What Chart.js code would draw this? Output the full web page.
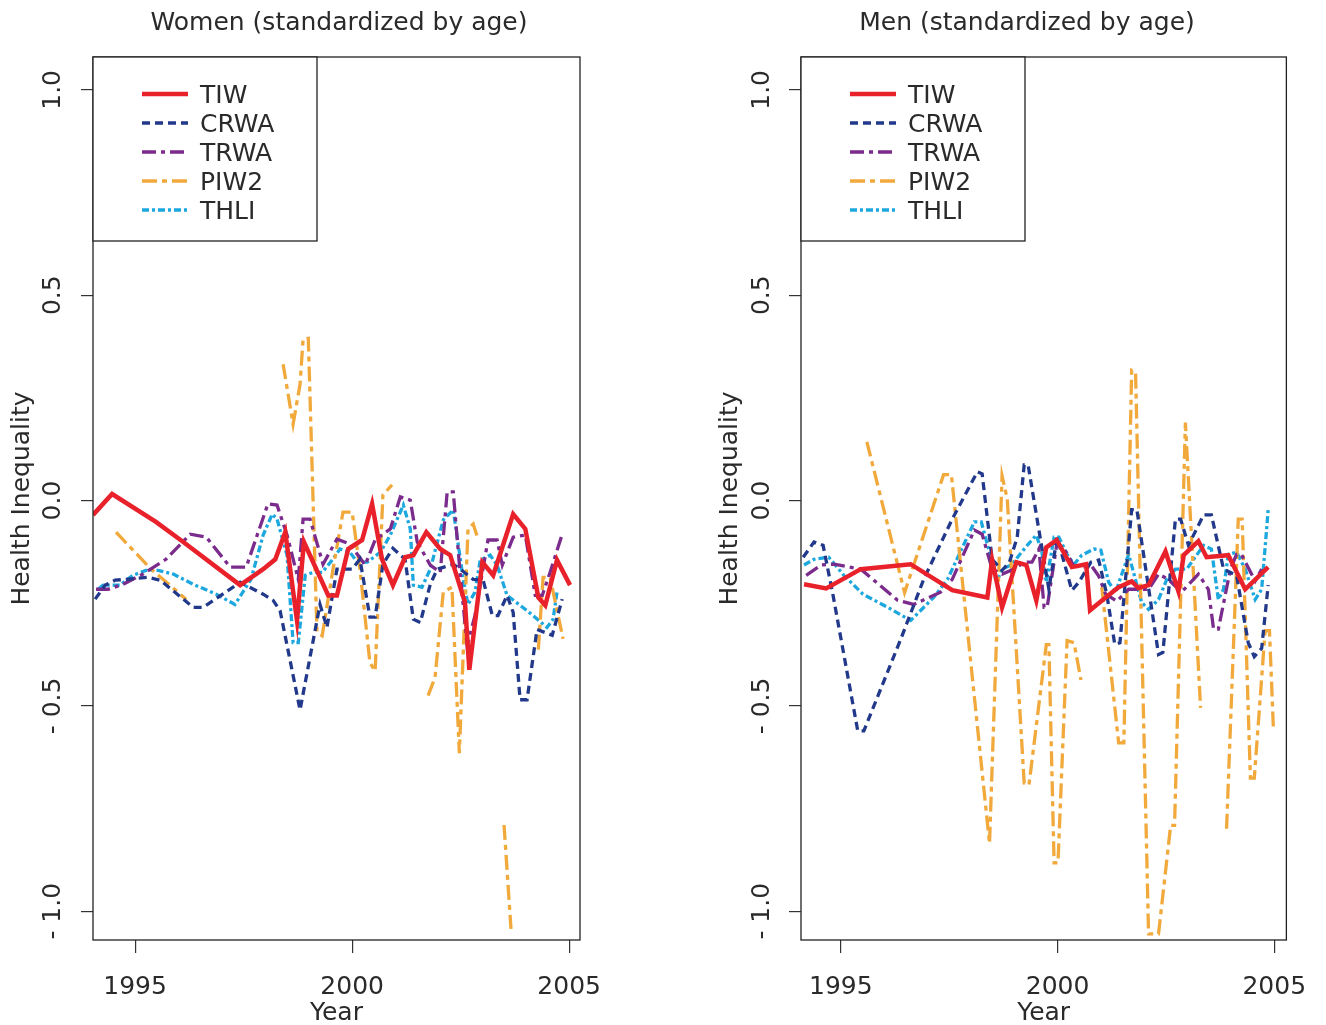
<!DOCTYPE html>
<html>
<head>
<meta charset="utf-8">
<script src="https://cdn.jsdelivr.net/npm/chart.js@4.4.1/dist/chart.umd.min.js"></script>
<style>
  html, body { margin: 0; padding: 0; background: #fff; }
  #wrap { position: relative; width: 1326px; height: 1025px; }
  canvas { position: absolute; top: 0; }
</style>
</head>
<body>
<div id="wrap">
  <canvas id="women" width="663" height="1025" style="left:0"></canvas>
  <canvas id="men" width="663" height="1025" style="left:663px"></canvas>
</div>
<script>
const seriesNames = ['TIW', 'CRWA', 'TRWA', 'PIW2', 'THLI'];
const xTicks = [1995, 2000, 2005];
const yTicks = [-1, -0.5, 0, 0.5, 1];
const yTickLabels = ['- 1.0', '- 0.5', '0.0', '0.5', '1.0'];

// Women (standardized by age)
const womenTiwYears = [1994.03, 1994.47, 1995.48, 1996.11, 1997.42, 1997.95, 1998.23, 1998.46, 1998.73, 1998.89, 1999.45, 1999.65, 1999.91, 2000.23, 2000.46, 2000.69, 2000.94, 2001.22, 2001.41, 2001.71, 2002.03, 2002.26, 2002.60, 2002.70, 2003.00, 2003.25, 2003.71, 2003.99, 2004.29, 2004.45, 2004.72, 2005.02];
const womenTiwValues = [-0.035, 0.016, -0.052, -0.101, -0.206, -0.167, -0.143, -0.077, -0.292, -0.101, -0.231, -0.231, -0.118, -0.096, -0.008, -0.143, -0.206, -0.138, -0.133, -0.077, -0.118, -0.133, -0.248, -0.412, -0.150, -0.182, -0.033, -0.069, -0.236, -0.255, -0.145, -0.206];

const womenCrwaYears = [1994.08, 1994.31, 1994.54, 1995.30, 1995.58, 1996.34, 1996.57, 1997.42, 1997.95, 1998.18, 1998.34, 1998.80, 1999.26, 1999.42, 1999.65, 2000.00, 2000.18, 2000.41, 2000.53, 2000.71, 2000.94, 2001.22, 2001.41, 2001.57, 2001.80, 2001.96, 2002.33, 2002.49, 2002.79, 2003.02, 2003.23, 2003.36, 2003.57, 2003.71, 2003.87, 2004.03, 2004.26, 2004.61, 2004.84];
const womenCrwaValues = [-0.240, -0.206, -0.194, -0.187, -0.194, -0.260, -0.260, -0.199, -0.228, -0.243, -0.268, -0.510, -0.253, -0.309, -0.167, -0.167, -0.143, -0.284, -0.284, -0.155, -0.116, -0.143, -0.289, -0.297, -0.204, -0.167, -0.155, -0.167, -0.192, -0.194, -0.280, -0.280, -0.231, -0.272, -0.485, -0.485, -0.314, -0.328, -0.240];

const womenTrwaYears = [1994.10, 1994.38, 1994.72, 1995.18, 1995.71, 1996.27, 1996.64, 1997.19, 1997.56, 1998.06, 1998.27, 1998.50, 1998.76, 1998.87, 1999.03, 1999.33, 1999.65, 1999.95, 2000.30, 2000.53, 2000.88, 2001.11, 2001.34, 2001.50, 2001.80, 2002.03, 2002.19, 2002.33, 2002.49, 2002.65, 2002.83, 2003.13, 2003.34, 2003.46, 2003.71, 2003.99, 2004.22, 2004.38, 2004.56, 2004.84];
const womenTrwaValues = [-0.216, -0.216, -0.204, -0.179, -0.143, -0.082, -0.089, -0.162, -0.162, -0.008, -0.011, -0.084, -0.192, -0.045, -0.045, -0.155, -0.094, -0.106, -0.157, -0.096, -0.069, 0.009, 0.001, -0.101, -0.157, -0.175, 0.021, 0.021, -0.179, -0.353, -0.280, -0.096, -0.096, -0.157, -0.089, -0.084, -0.231, -0.231, -0.175, -0.082];

const womenPiw2Years = [1994.56, 1995.35, 1996.18, 1997.30, 1998.41, 1998.64, 1998.80, 1998.87, 1998.99, 1999.19, 1999.31, 1999.56, 1999.79, 2000.00, 2000.18, 2000.41, 2000.53, 2000.71, 2000.92, 2001.30, 2001.75, 2001.91, 2002.10, 2002.30, 2002.47, 2002.67, 2002.79, 2002.90, 2003.20, 2003.50, 2003.66, 2004.00, 2004.29, 2004.40, 2004.56, 2004.86];
const womenPiw2Values = [-0.077, -0.165, -0.241, null, 0.332, 0.186, 0.283, 0.393, 0.395, -0.321, -0.329, -0.167, -0.028, -0.028, -0.167, -0.395, -0.415, 0.014, 0.038, null, -0.475, -0.431, -0.223, -0.211, -0.615, -0.069, -0.057, -0.094, null, -0.790, -1.043, null, -0.363, -0.187, -0.187, -0.337];

const womenThliYears = [1994.15, 1994.26, 1994.65, 1994.95, 1995.25, 1995.53, 1995.88, 1996.34, 1996.87, 1997.30, 1997.67, 1997.95, 1998.16, 1998.27, 1998.50, 1998.64, 1998.76, 1998.92, 1999.10, 1999.31, 1999.54, 1999.72, 1999.95, 2000.12, 2000.35, 2000.65, 2000.88, 2001.18, 2001.34, 2001.41, 2001.61, 2001.80, 2002.10, 2002.33, 2002.56, 2002.67, 2002.83, 2002.95, 2003.18, 2003.34, 2003.57, 2003.87, 2004.17, 2004.49, 2004.63, 2004.72];
const womenThliValues = [-0.216, -0.206, -0.206, -0.182, -0.170, -0.170, -0.179, -0.204, -0.228, -0.253, -0.192, -0.084, -0.033, -0.045, -0.133, -0.346, -0.346, -0.182, -0.175, -0.175, -0.145, -0.118, -0.126, -0.150, -0.150, -0.126, -0.084, -0.011, -0.069, -0.206, -0.211, -0.167, -0.047, -0.023, -0.192, -0.253, -0.223, -0.145, -0.133, -0.157, -0.231, -0.255, -0.280, -0.309, -0.289, -0.223];

// Men (standardized by age)
const menTiwYears = [1994.15, 1994.66, 1995.46, 1996.61, 1997.57, 1998.38, 1998.49, 1998.72, 1999.05, 1999.28, 1999.51, 1999.74, 1999.98, 2000.33, 2000.66, 2000.75, 2001.11, 2001.41, 2001.71, 2001.87, 2002.10, 2002.49, 2002.79, 2002.91, 2003.25, 2003.44, 2003.94, 2004.33, 2004.86];
const menTiwValues = [-0.204, -0.214, -0.167, -0.155, -0.218, -0.236, -0.145, -0.260, -0.150, -0.157, -0.243, -0.114, -0.096, -0.162, -0.155, -0.267, -0.236, -0.211, -0.197, -0.213, -0.206, -0.124, -0.221, -0.133, -0.099, -0.138, -0.133, -0.216, -0.162];

const menCrwaYears = [1994.13, 1994.38, 1994.59, 1994.82, 1995.39, 1995.53, 1996.38, 1996.91, 1997.57, 1998.15, 1998.26, 1998.49, 1998.72, 1998.89, 1999.07, 1999.23, 1999.32, 1999.57, 1999.80, 1999.99, 2000.15, 2000.33, 2000.49, 2000.77, 2000.95, 2001.14, 2001.32, 2001.44, 2001.71, 2001.83, 2002.33, 2002.43, 2002.72, 2002.84, 2003.02, 2003.37, 2003.55, 2003.83, 2004.13, 2004.40, 2004.54, 2004.71, 2004.86];
const menCrwaValues = [-0.138, -0.101, -0.109, -0.231, -0.561, -0.561, -0.338, -0.192, -0.045, 0.070, 0.065, -0.143, -0.170, -0.150, -0.089, 0.087, 0.087, -0.072, -0.216, -0.089, -0.150, -0.219, -0.199, -0.150, -0.145, -0.231, -0.350, -0.346, -0.022, -0.022, -0.375, -0.370, -0.045, -0.045, -0.109, -0.035, -0.035, -0.167, -0.182, -0.346, -0.380, -0.360, -0.206];

const menTrwaYears = [1994.20, 1994.54, 1994.84, 1995.46, 1995.74, 1996.31, 1996.68, 1997.30, 1997.57, 1998.08, 1998.26, 1998.49, 1998.72, 1999.00, 1999.23, 1999.41, 1999.57, 1999.69, 1999.76, 1999.99, 2000.20, 2000.38, 2000.56, 2000.79, 2000.95, 2001.11, 2001.37, 2001.64, 2002.10, 2002.33, 2002.56, 2002.86, 2003.25, 2003.48, 2003.60, 2003.71, 2003.99, 2004.13, 2004.24, 2004.56, 2004.71];
const menTrwaValues = [-0.182, -0.157, -0.155, -0.167, -0.192, -0.243, -0.253, -0.223, -0.192, -0.072, -0.082, -0.167, -0.179, -0.167, -0.150, -0.150, -0.118, -0.260, -0.260, -0.101, -0.126, -0.160, -0.162, -0.160, -0.184, -0.228, -0.245, -0.216, -0.216, -0.179, -0.192, -0.223, -0.179, -0.216, -0.313, -0.313, -0.167, -0.131, -0.131, -0.196, -0.167];

const menPiw2Years = [1995.60, 1996.47, 1997.37, 1997.55, 1998.43, 1998.72, 1998.84, 1999.23, 1999.34, 1999.74, 1999.80, 1999.92, 2000.01, 2000.22, 2000.38, 2000.54, 2000.78, 2001.02, 2001.41, 2001.53, 2001.71, 2001.80, 2002.10, 2002.33, 2002.61, 2002.70, 2002.95, 2003.30, 2003.60, 2003.90, 2004.17, 2004.26, 2004.45, 2004.54, 2004.79, 2004.89, 2004.98];
const menPiw2Values = [0.143, -0.224, 0.063, 0.063, -0.835, 0.060, 0.004, -0.688, -0.693, -0.351, -0.351, -0.882, -0.882, -0.341, -0.346, -0.437, null, -0.211, -0.590, -0.590, 0.317, 0.312, -1.055, -1.055, -0.791, -0.791, 0.190, -0.505, null, -0.799, -0.045, -0.045, -0.676, -0.676, -0.317, -0.317, -0.553];

const menThliYears = [1994.15, 1994.38, 1994.72, 1995.07, 1995.51, 1996.08, 1996.61, 1997.14, 1997.46, 1998.08, 1998.24, 1998.43, 1998.59, 1998.72, 1998.93, 1999.30, 1999.51, 1999.64, 1999.74, 1999.92, 2000.03, 2000.22, 2000.38, 2000.56, 2000.84, 2001.00, 2001.18, 2001.34, 2001.64, 2001.94, 2002.10, 2002.33, 2002.52, 2002.72, 2002.98, 2003.37, 2003.55, 2003.71, 2003.83, 2003.94, 2004.13, 2004.33, 2004.56, 2004.71, 2004.86];
const menThliValues = [-0.157, -0.143, -0.138, -0.182, -0.228, -0.260, -0.292, -0.236, -0.192, -0.052, -0.052, -0.126, -0.199, -0.167, -0.157, -0.109, -0.084, -0.126, -0.199, -0.089, -0.089, -0.131, -0.155, -0.133, -0.118, -0.121, -0.199, -0.223, -0.131, -0.248, -0.265, -0.241, -0.192, -0.167, -0.167, -0.109, -0.118, -0.241, -0.216, -0.131, -0.126, -0.167, -0.241, -0.216, -0.023];

const seriesStyles = {
    TIW: { color: '#e8212b', width: 4.5, dash: [] },
    CRWA: { color: '#22398b', width: 3.3, dash: [8, 5] },
    TRWA: { color: '#7b2b8c', width: 3.3, dash: [14, 5, 4, 5] },
    PIW2: { color: '#f1a93c', width: 3.3, dash: [15, 5, 5, 5] },
    THLI: { color: '#1ca8de', width: 3.3, dash: [7, 3, 3, 3] }
};

const FONT = '"DejaVu Sans", Verdana, sans-serif';
const FONT_SIZE = 25;
const TEXT_COLOR = '#2a2a2a';

function makeDatasets(yearLists, valueLists) {
    return seriesNames.map((name, i) => ({
        label: name,
        data: yearLists[i].map((x, j) => ({ x: x, y: valueLists[i][j] })),
        borderColor: seriesStyles[name].color,
        borderWidth: seriesStyles[name].width,
        borderDash: seriesStyles[name].dash,
        borderCapStyle: 'butt',
        borderJoinStyle: 'miter',
        pointRadius: 0,
        fill: false,
        tension: 0,
        spanGaps: false
    }));
}

// box, titles, rotated y labels and legend, drawn the way the R plot has them
const decorPlugin = {
    id: 'decor',
    afterDraw(chart, args, opts) {
        const { ctx, chartArea: a, scales } = chart;
        ctx.save();
        ctx.strokeStyle = '#222';
        ctx.lineWidth = 1.3;
        ctx.setLineDash([]);
        ctx.strokeRect(a.left, a.top, a.right - a.left, a.bottom - a.top);

        ctx.fillStyle = TEXT_COLOR;
        ctx.font = FONT_SIZE + 'px ' + FONT;
        ctx.textAlign = 'center';
        ctx.textBaseline = 'middle';
        ctx.fillText(opts.title, opts.titleX, 23);
        ctx.fillText('Year', (a.left + a.right) / 2, 1013);

        yTicks.forEach((v, i) => {
            const y = scales.y.getPixelForValue(v);
            ctx.save();
            ctx.translate(opts.tickLabelX, y);
            ctx.rotate(-Math.PI / 2);
            ctx.fillText(yTickLabels[i], 0, 0);
            ctx.restore();
        });

        ctx.save();
        ctx.translate(opts.yTitleX, (a.top + a.bottom) / 2);
        ctx.rotate(-Math.PI / 2);
        ctx.fillText('Health Inequality', 0, 0);
        ctx.restore();

        // legend
        const boxW = 224, boxBottom = 241;
        ctx.fillStyle = '#fff';
        ctx.fillRect(a.left, a.top, boxW, boxBottom - a.top);
        ctx.strokeStyle = '#222';
        ctx.lineWidth = 1.3;
        ctx.strokeRect(a.left, a.top, boxW, boxBottom - a.top);
        chart.data.datasets.forEach((ds, i) => {
            const y = 94 + i * 29;
            ctx.beginPath();
            ctx.strokeStyle = ds.borderColor;
            ctx.lineWidth = ds.borderWidth;
            ctx.lineCap = 'butt';
            ctx.setLineDash(ds.borderDash);
            ctx.moveTo(a.left + 49, y);
            ctx.lineTo(a.left + 95, y);
            ctx.stroke();
            ctx.setLineDash([]);
            ctx.fillStyle = TEXT_COLOR;
            ctx.textAlign = 'left';
            ctx.fillText(ds.label, a.left + 107, y + 2);
        });
        ctx.restore();
    }
};

function renderPanel(canvasId, datasets, panel) {
    const canvas = document.getElementById(canvasId);
    if (!canvas) return;
    const ctx = canvas.getContext('2d');

    canvas.chart = new Chart(ctx, {
        type: 'line',
        data: { datasets: datasets },
        plugins: [decorPlugin],
        options: {
            responsive: false,
            animation: false,
            devicePixelRatio: 1,
            layout: {
                autoPadding: false,
                padding: { top: 57, left: 0, right: panel.padRight, bottom: 0 }
            },
            plugins: {
                legend: { display: false },
                tooltip: { enabled: false },
                decor: panel
            },
            scales: {
                x: {
                    type: 'linear',
                    min: panel.xMin,
                    max: panel.xMax,
                    afterFit: (s) => { s.height = 85; },
                    afterBuildTicks: (s) => { s.ticks = xTicks.map(v => ({ value: v })); },
                    border: { display: false },
                    grid: { drawOnChartArea: false, drawTicks: true, tickLength: 13, color: '#333', lineWidth: 1.2 },
                    ticks: {
                        padding: 19,
                        color: TEXT_COLOR,
                        font: { family: FONT, size: FONT_SIZE },
                        maxRotation: 0,
                        callback: (v) => String(v)
                    }
                },
                y: {
                    type: 'linear',
                    min: -1.07,
                    max: 1.08,
                    afterFit: (s) => { s.width = panel.yWidth; },
                    afterBuildTicks: (s) => { s.ticks = yTicks.map(v => ({ value: v })); },
                    border: { display: false },
                    grid: { drawOnChartArea: false, drawTicks: true, tickLength: 12, color: '#333', lineWidth: 1.2 },
                    ticks: { display: false }
                }
            }
        }
    });
}

renderPanel('women',
    makeDatasets(
        [womenTiwYears, womenCrwaYears, womenTrwaYears, womenPiw2Years, womenThliYears],
        [womenTiwValues, womenCrwaValues, womenTrwaValues, womenPiw2Values, womenThliValues]),
    { title: 'Women (standardized by age)', titleX: 339, tickLabelX: 53, yTitleX: 22,
      yWidth: 93, padRight: 83, xMin: 1994.03, xMax: 2005.25 });

renderPanel('men',
    makeDatasets(
        [menTiwYears, menCrwaYears, menTrwaYears, menPiw2Years, menThliYears],
        [menTiwValues, menCrwaValues, menTrwaValues, menPiw2Values, menThliValues]),
    { title: 'Men (standardized by age)', titleX: 1027 - 663, tickLabelX: 99, yTitleX: 67,
      yWidth: 138, padRight: 38, xMin: 1994.08, xMax: 2005.28 });
</script>
</body>
</html>
